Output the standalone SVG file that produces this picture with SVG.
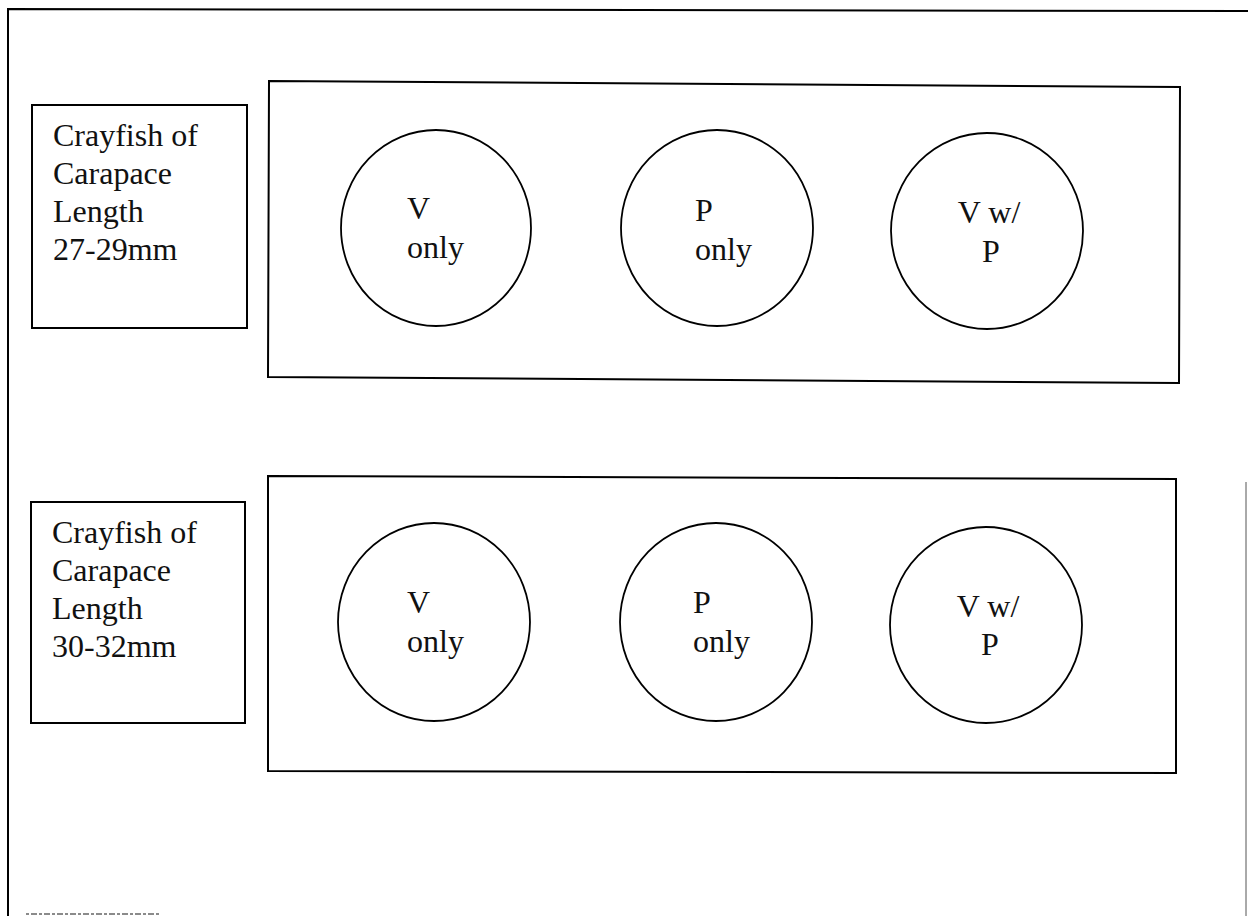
<svg xmlns="http://www.w3.org/2000/svg" width="1248" height="916" viewBox="0 0 1248 916">
<style>
.ln{fill:none;stroke:#000;stroke-width:2}
.ci{fill:none;stroke:#000;stroke-width:1.8}
.t{font-family:"Liberation Serif","Times New Roman",serif;font-size:32px;fill:#111}
.m{text-anchor:middle}
</style>
<rect width="1248" height="916" fill="#fff"/>
<g id="frame">
<path class="ln" d="M8,916 L8,9 L1248,11"/>
<line x1="1246" y1="482" x2="1246" y2="916" stroke="#555" stroke-width="1"/>
<line x1="26" y1="914" x2="160" y2="914" stroke="#666" stroke-width="1.5" stroke-dasharray="3 2 6 2"/>
</g>
<g id="label1">
<rect class="ln" x="32" y="105" width="215" height="223"/>
<text class="t" x="53" y="146">Crayfish of</text>
<text class="t" x="53" y="184">Carapace</text>
<text class="t" x="53" y="222">Length</text>
<text class="t" x="53" y="260">27-29mm</text>
</g>
<g id="group1">
<polygon class="ln" points="269,81 1180,87 1179,383 268,377"/>
</g>
<g id="c1a">
<ellipse class="ci" cx="436" cy="228" rx="95" ry="98"/>
<text class="t" x="407" y="219">V</text>
<text class="t" x="407" y="258">only</text>
</g>
<g id="c1b">
<ellipse class="ci" cx="717" cy="228" rx="96" ry="98"/>
<text class="t" x="695" y="221">P</text>
<text class="t" x="695" y="260">only</text>
</g>
<g id="c1c">
<ellipse class="ci" cx="987" cy="231" rx="96" ry="98"/>
<text class="t m" x="989" y="223">V w/</text>
<text class="t m" x="991" y="262">P</text>
</g>
<g id="label2">
<rect class="ln" x="31" y="502" width="214" height="221"/>
<text class="t" x="52" y="543">Crayfish of</text>
<text class="t" x="52" y="581">Carapace</text>
<text class="t" x="52" y="619">Length</text>
<text class="t" x="52" y="657">30-32mm</text>
</g>
<g id="group2">
<polygon class="ln" points="268,476 1176,479 1176,773 268,771"/>
</g>
<g id="c2a">
<ellipse class="ci" cx="434" cy="622" rx="96" ry="99"/>
<text class="t" x="407" y="613">V</text>
<text class="t" x="407" y="652">only</text>
</g>
<g id="c2b">
<ellipse class="ci" cx="716" cy="622" rx="96" ry="99"/>
<text class="t" x="693" y="613">P</text>
<text class="t" x="693" y="652">only</text>
</g>
<g id="c2c">
<ellipse class="ci" cx="986" cy="625" rx="96" ry="98"/>
<text class="t m" x="988" y="617">V w/</text>
<text class="t m" x="990" y="655">P</text>
</g>
<g id="connectors"></g>
</svg>
